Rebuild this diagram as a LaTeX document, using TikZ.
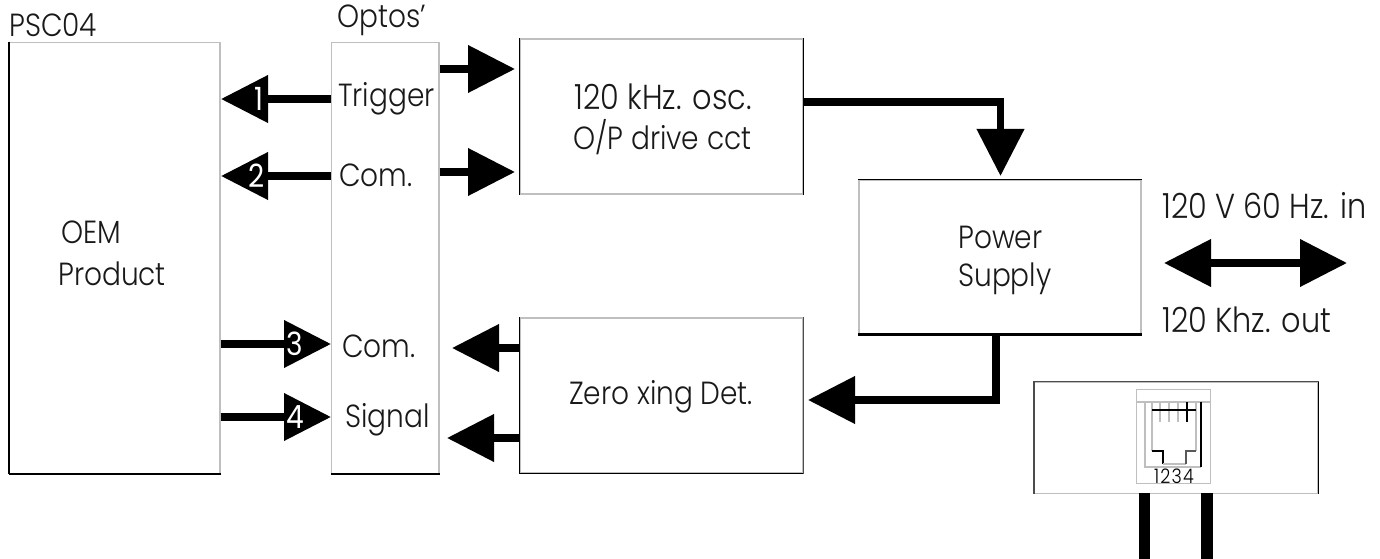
\documentclass[tikz,border=0pt]{standalone}
\usepackage{fontspec}
\setmainfont{Poppins}[UprightFont=* Light,FakeStretch=0.875]
\newfontfamily\numfont{Poppins}[FakeStretch=0.875]
\usetikzlibrary{arrows.meta}
\definecolor{edgegray}{gray}{0.75}
\tikzset{
  x=0.75pt,y=-0.75pt,
  boxn/.style={draw=edgegray,line width=0.9pt,fill=white,inner sep=0pt,minimum width=#1},
  dk/.style={black,line width=1.3pt},
  gr/.style={edgegray,line width=0.8pt},
  pw/.style={line width=5.5pt,-{Triangle[length=35.25pt,width=34.5pt]}},
  lbl/.style={font=\fontsize{24}{28}\selectfont,inner sep=0pt,text=black!90,anchor=base west},
  lblb/.style={lbl,font=\fontsize{26}{30}\selectfont},
  num/.style={font=\numfont\fontsize{24}{28}\selectfont,inner sep=0pt,text=white},
}
\begin{document}
\begin{tikzpicture}
\useasboundingbox (0,0) rectangle (1380,559);
% boxes
\node[boxn=157.9pt,minimum height=323.2pt] (oem) at (114.75,257.75) {};
\node[boxn=80.6pt,minimum height=323.2pt] (opt) at (385.25,257.75) {};
\node[boxn=212.25pt,minimum height=116.25pt] (osc) at (661.5,116.5) {};
\node[boxn=211.5pt,minimum height=115.5pt] (pow) at (1000,257) {};
\node[boxn=212.25pt,minimum height=116.25pt] (zer) at (661.5,395.5) {};
\node[boxn=212.6pt,minimum height=83.25pt] (plug) at (1176.25,437.75) {};
% dark edges
\draw[dk] (oem.north west) -- (oem.south west);
\draw[dk] (oem.south west) -- (oem.south east);
\draw[dk] (opt.south west) -- (opt.south east);
\draw[dk] (osc.north west) -- (osc.south west);
\draw[dk] (osc.north east) -- (osc.south east);
\draw[dk] (pow.north west) -- (pow.north east);
\draw[black,line width=2.2pt] (pow.south west) -- (pow.south east);
\draw[dk] (zer.north west) -- (zer.south west);
\draw[dk] (zer.south west) -- (zer.south east);
\draw[black!70,line width=1pt] (zer.north east) -- (zer.south east);
\draw[black!70,line width=1pt] (plug.south west) -- (plug.north west) -- (plug.north east);
\draw[dk] (plug.north east) -- (plug.south east);
% arrow tips
\coordinate (t1) at (221,99);
\coordinate (t2) at (221,176);
\coordinate (t3) at (331,344);
\coordinate (t4) at (331,417);
\coordinate (ta) at (515,69);
\coordinate (tb) at (515,172);
\coordinate (tc) at (452,348);
\coordinate (td) at (447,438);
\coordinate (te) at (1000.5,176);
\coordinate (tf) at (808,400);
\coordinate (tg) at (1164,263);
\coordinate (th) at (1347,263);
\draw[pw] (opt.west |- t1) -- (t1);
\draw[pw] (opt.west |- t2) -- (t2);
\draw[pw] (oem.east |- t3) -- (t3);
\draw[pw] (oem.east |- t4) -- (t4);
\draw[pw] (opt.east |- ta) -- (ta);
\draw[pw] (opt.east |- tb) -- (tb);
\draw[pw] (zer.west |- tc) -- (tc);
\draw[pw] (zer.west |- td) -- (td);
\draw[pw] (osc.east |- 0,102) -| (te);
\draw[pw] (te |- pow.south) ++(-4.5,0) |- (tf);
\draw[line width=5.5pt,{Triangle[length=35.25pt,width=34.5pt]}-{Triangle[length=35.25pt,width=34.5pt]}] (tg) -- (th);
% numbers on arrow heads
\node[num] (n1) at (259,99) {1};
\node[num] (n2) at (257,176) {2};
\node[num] (n3) at (295,344) {3};
\node[num] (n4) at (295,417) {4};
% labels
\node[lbl] (psc) at (9,37) {PSC04};
\node[lbl] (optos) at (337,28) {Optos'};
\node[lbl] (trig) at (338,107) {Trigger};
\node[lbl] (com1) at (339,187) {Com.};
\node[lbl] (com2) at (342,358) {Com.};
\node[lbl] (sig) at (345,427) {Signal};
\node[lbl] (oem1) at (61,244) {OEM};
\node[lbl] (oem2) at (58,286) {Product};
\node[lbl] (os1) at (574,110) {\fontsize{26}{30}\selectfont 120 kHz. osc.};
\node[lbl] (os2) at (573,150) {O/P drive cct};
\node[lbl] (pw1) at (958,249) {Power};
\node[lbl] (pw2) at (958,287) {Supply};
\node[lbl] (zx) at (569,404) {Zero xing Det.};
\node[lblb] (in) at (1162,219) {120 V 60 Hz. in};
\node[lblb] (out) at (1162,333) {120 Khz. out};
% phone jack
\node[draw=edgegray,line width=0.75pt,inner sep=0pt,minimum width=55.5pt,minimum height=71pt] (jack) at (1173,436.5) {};
\draw[gr] (jack.west |- 0,402) -- (jack.east |- 0,402);
\draw[gr] (1145,402) -- (1145,467) -- (1201,467);
\draw[black,line width=1.1pt] (1201,402) -- (1201,467);
\draw[gr] (1152,402) -- (1152,451);
\draw[gr] (1196,402) -- (1196,451);
\foreach \x in {1160,1169,1178} \draw[gr] (\x,402) -- (\x,422);
\draw[black,line width=1.1pt] (1152,410) -- (1196,410);
\draw[black,line width=1.1pt] (1187,402) -- (1187,422);
\draw[black,line width=1.1pt] (1152,451) -- (1163,451) -- (1163,464);
\draw[gr] (1163,464) -- (1186,464);
\draw[black!65,line width=1pt] (1186,464) -- (1186,451) -- (1196,451);
\node[inner sep=0pt,font=\fontsize{15}{18}\selectfont\addfontfeature{LetterSpace=6}] (pins) at (1174,476) {1234};
% plug legs
\fill[black] (1139,493) rectangle (1150,559);
\fill[black] (1201,493) rectangle (1213,559);
\end{tikzpicture}
\end{document}
